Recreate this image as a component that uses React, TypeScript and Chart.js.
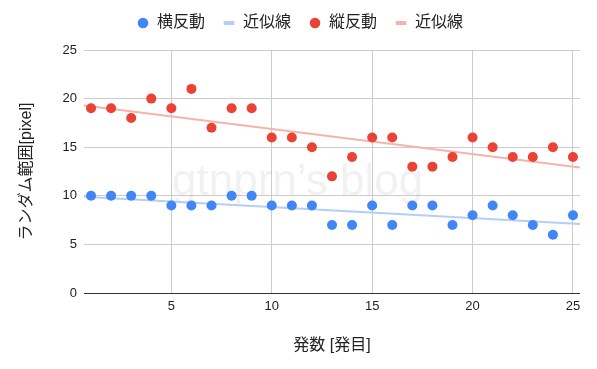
import React, { useEffect, useRef } from "react";
import { Chart, registerables } from "chart.js";

Chart.register(...registerables);

const shots = [1, 2, 3, 4, 5, 6, 7, 8, 9, 10, 11, 12, 13, 14, 15, 16, 17, 18, 19, 20, 21, 22, 23, 24, 25];
const horizontal = [10, 10, 10, 10, 9, 9, 9, 10, 10, 9, 9, 9, 7, 7, 9, 7, 9, 9, 7, 8, 9, 8, 7, 6, 8];
const vertical = [19, 19, 18, 20, 19, 21, 17, 19, 19, 16, 16, 15, 12, 14, 16, 16, 13, 13, 14, 16, 15, 14, 14, 15, 14];
const trendX = [0.65, 25.35];
const horizontalTrend = [9.9, 7.1];
const verticalTrend = [19.3, 12.9];
const xTicks = [5, 10, 15, 20, 25];
const seriesNames = ["横反動", "近似線", "縦反動", "近似線"];

const FONT = "'Liberation Sans', 'Noto Sans CJK JP', Arial, sans-serif";

const watermark = {
  id: "watermark",
  beforeDatasetsDraw(chart: any) {
    const { ctx } = chart;
    ctx.save();
    ctx.font = `44px ${FONT}`;
    ctx.fillStyle = "rgba(0,0,0,0.055)";
    ctx.textAlign = "left";
    ctx.textBaseline = "alphabetic";
    ctx.fillText("gtnprn’s blog", 172, 195);
    ctx.restore();
  },
};

const legendTweak = {
  id: "legendTweak",
  beforeInit(chart: any) {
    const legend = chart.legend;
    if (!legend) return;
    const fit = legend.fit;
    legend.fit = function () {
      fit.call(this);
      this.height = 53;
    };
  },
  beforeDraw(chart: any) {
    const legend = chart.legend;
    if (!legend || legend._shifted) return;
    legend.left += 10;
    legend.right += 10;
    legend._shifted = true;
  },
  afterDraw(chart: any) {
    const legend = chart.legend;
    if (legend && legend._shifted) {
      legend.left -= 10;
      legend.right -= 10;
      legend._shifted = false;
    }
  },
};

export default function App() {
  const ref = useRef<HTMLCanvasElement>(null);
  useEffect(() => {
    document.body.style.margin = "0";
    const ctx = ref.current!;
    const chart = new Chart(ctx, {
      type: "scatter",
      data: {
        datasets: [
          {
            label: seriesNames[0],
            data: shots.map((x, i) => ({ x, y: horizontal[i] })),
            backgroundColor: "#4285F4",
            borderColor: "#4285F4",
            pointRadius: 5,
            pointBorderWidth: 0,
          },
          {
            label: seriesNames[1],
            data: trendX.map((x, i) => ({ x, y: horizontalTrend[i] })),
            borderColor: "#b3cefb",
            backgroundColor: "#b3cefb",
            showLine: true,
            pointRadius: 0,
            borderWidth: 2,
          },
          {
            label: seriesNames[2],
            data: shots.map((x, i) => ({ x, y: vertical[i] })),
            backgroundColor: "#EA4335",
            borderColor: "#EA4335",
            pointRadius: 5,
            pointBorderWidth: 0,
          },
          {
            label: seriesNames[3],
            data: trendX.map((x, i) => ({ x, y: verticalTrend[i] })),
            borderColor: "#f6b3ad",
            backgroundColor: "#f6b3ad",
            showLine: true,
            pointRadius: 0,
            borderWidth: 2,
          },
        ],
      } as any,
      options: {
        animation: false,
        responsive: false,
        layout: { padding: { top: -3, right: 17 } },
        plugins: {
          tooltip: { enabled: false },
          legend: {
            position: "top",
            labels: {
              usePointStyle: true,
              boxWidth: 12,
              boxHeight: 7.5,
              padding: 18,
              color: "#222",
              font: { family: FONT, size: 16 },
              generateLabels(chart: any) {
                return chart.data.datasets.map((ds: any, i: number) => {
                  const isLine = i % 2 === 1;
                  return {
                    text: ds.label,
                    fillStyle: ds.backgroundColor,
                    strokeStyle: ds.borderColor,
                    lineWidth: isLine ? 4 : 0,
                    pointStyle: isLine ? "line" : "circle",
                    datasetIndex: i,
                    hidden: false,
                    fontColor: "#222",
                  };
                });
              },
            },
          },
        },
        scales: {
          x: {
            type: "linear",
            min: 0.65,
            max: 25.35,
            afterBuildTicks(scale: any) {
              scale.ticks = xTicks.map((v) => ({ value: v }));
            },
            afterFit(scale: any) {
              scale.height = 76;
            },
            grid: { color: "#cccccc", drawTicks: false },
            border: { display: false },
            ticks: { color: "#222", font: { family: FONT, size: 13 }, padding: 6, maxRotation: 0 },
            title: {
              display: true,
              text: "発数 [発目]",
              color: "#222",
              font: { family: FONT, size: 16 },
              padding: { top: 0, bottom: 14 },
            },
          },
          y: {
            min: 0,
            max: 25,
            ticks: { stepSize: 5, color: "#222", font: { family: FONT, size: 13 }, padding: 7 },
            afterFit(scale: any) {
              scale.width = 84;
            },
            grid: {
              color: (c: any) => (c.tick && c.tick.value === 0 ? "#333333" : "#cccccc"),
              drawTicks: false,
            },
            border: { display: false },
            title: {
              display: true,
              text: "ランダム範囲[pixel]",
              color: "#222",
              font: { family: FONT, size: 16 },
              padding: { top: 17, bottom: 0 },
            },
          },
        },
      } as any,
      plugins: [watermark, legendTweak],
    });
    return () => chart.destroy();
  }, []);
  return <canvas ref={ref} width={597} height={369} style={{ display: "block" }} />;
}
